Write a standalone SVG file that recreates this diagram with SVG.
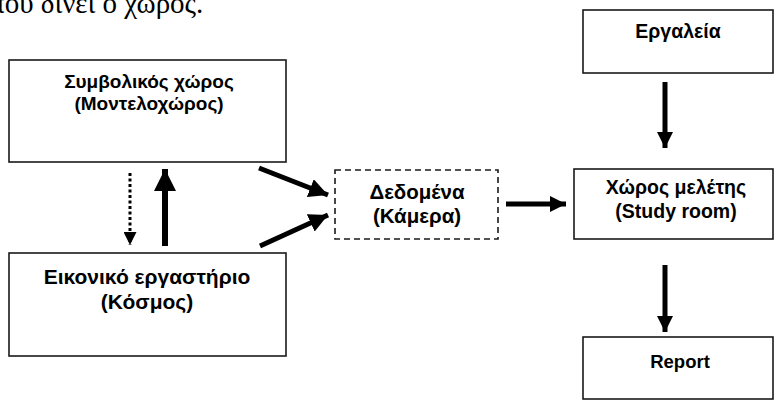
<svg xmlns="http://www.w3.org/2000/svg" width="775" height="400" viewBox="0 0 775 400">
<defs>
<style>
.box{fill:#fff;stroke:#1a1a1a;stroke-width:1.6}
.dbox{fill:#fff;stroke:#1a1a1a;stroke-width:1.6;stroke-dasharray:6 4}
.lbl{font-family:"Liberation Sans",Arial,sans-serif;font-weight:bold;fill:#000;text-anchor:middle}
.conn{stroke:#000;fill:none}
</style>
<marker id="hd" markerUnits="userSpaceOnUse" viewBox="0 0 16 16" refX="16" refY="8" markerWidth="16" markerHeight="16" orient="auto"><path d="M0,0 L16,8 L0,16 z" fill="#000"/></marker>
<marker id="hbig" markerUnits="userSpaceOnUse" viewBox="0 0 22 22" refX="22" refY="11" markerWidth="22" markerHeight="22" orient="auto"><path d="M0,0 L22,11 L0,22 z" fill="#000"/></marker>
<marker id="hdiag" markerUnits="userSpaceOnUse" viewBox="0 0 19 19" refX="19" refY="9.5" markerWidth="19" markerHeight="19" orient="auto"><path d="M0,0 L19,9.5 L0,19 z" fill="#000"/></marker>
<marker id="hsm" markerUnits="userSpaceOnUse" viewBox="0 0 13 13" refX="13" refY="6.5" markerWidth="13" markerHeight="13" orient="auto"><path d="M0,0 L13,6.5 L0,13 z" fill="#000"/></marker>
</defs>
<rect width="775" height="400" fill="#fff"/>
<text x="-10" y="13" font-family="'Liberation Serif','Times New Roman',serif" font-size="29" fill="#000">που δίνει ο χώρος.</text>
<g id="symbolic">
<rect class="box" x="9" y="60" width="277" height="102"/>
<text class="lbl" x="149" y="88" font-size="19">Συμβολικός χώρος</text>
<text class="lbl" x="149" y="110" font-size="19">(Μοντελοχώρος)</text>
</g>
<g id="lab">
<rect class="box" x="9" y="253" width="277" height="103"/>
<text class="lbl" x="147" y="284" font-size="21">Εικονικό εργαστήριο</text>
<text class="lbl" x="147" y="309" font-size="21">(Κόσμος)</text>
</g>
<g id="data">
<rect class="dbox" x="335" y="170" width="163" height="69"/>
<text class="lbl" x="417" y="199" font-size="20.5">Δεδομένα</text>
<text class="lbl" x="417" y="223" font-size="20.5">(Κάμερα)</text>
</g>
<g id="tools">
<rect class="box" x="583" y="10" width="190" height="63"/>
<text class="lbl" x="678" y="38" font-size="19.5">Εργαλεία</text>
</g>
<g id="study">
<rect class="box" x="574" y="169" width="199" height="70"/>
<text class="lbl" x="676" y="194" font-size="19.5">Χώρος μελέτης</text>
<text class="lbl" x="676" y="218" font-size="19.5">(Study room)</text>
</g>
<g id="report">
<rect class="box" x="583" y="337" width="190" height="62"/>
<text class="lbl" x="680" y="368" font-size="18.5">Report</text>
</g>
<g id="connectors">
<line class="conn" x1="130" y1="173" x2="130" y2="245" stroke-width="3" stroke-dasharray="3 2.5" marker-end="url(#hsm)"/>
<line class="conn" x1="165" y1="246" x2="165" y2="169" stroke-width="6" marker-end="url(#hbig)"/>
<line class="conn" x1="259" y1="168" x2="328" y2="195" stroke-width="5" marker-end="url(#hdiag)"/>
<line class="conn" x1="260" y1="246" x2="328" y2="215" stroke-width="5" marker-end="url(#hdiag)"/>
<line class="conn" x1="506" y1="204" x2="566" y2="204" stroke-width="5" marker-end="url(#hd)"/>
<line class="conn" x1="665" y1="82" x2="665" y2="148" stroke-width="5" marker-end="url(#hd)"/>
<line class="conn" x1="665" y1="265" x2="665" y2="332" stroke-width="5" marker-end="url(#hd)"/>
</g>
</svg>
